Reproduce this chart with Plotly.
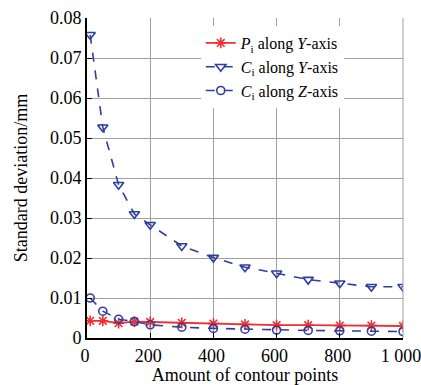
import plotly.graph_objects as go

points = [10, 50, 100, 150, 200, 300, 400, 500, 600, 700, 800, 900, 1000]
p_y = [0.0043, 0.0043, 0.0037, 0.0041, 0.0040, 0.0038, 0.0036, 0.0034, 0.0032, 0.0032, 0.0031, 0.0031, 0.0030]
c_y = [0.0758, 0.0527, 0.0383, 0.0310, 0.0283, 0.0230, 0.0201, 0.0177, 0.0162, 0.0146, 0.0137, 0.0128, 0.0128]
c_z = [0.0100, 0.0067, 0.0047, 0.0041, 0.0033, 0.0027, 0.0024, 0.0022, 0.0020, 0.0019, 0.0018, 0.0017, 0.0016]

x_ticks = [0, 200, 400, 600, 800, 1000]
x_ticktext = ["0", "200", "400", "600", "800", "1 000"]
y_ticks = [0, 0.01, 0.02, 0.03, 0.04, 0.05, 0.06, 0.07, 0.08]
y_ticktext = ["0", "0.01", "0.02", "0.03", "0.04", "0.05", "0.06", "0.07", "0.08"]

RED = "#f03030"
BLUE = "#2e3fa0"

fig = go.Figure()
fig.add_trace(go.Scatter(
    x=points, y=p_y, mode="lines+markers",
    name="<i>P</i><sub>i</sub> along <i>Y</i>-axis",
    line=dict(color=RED, width=1.8),
    marker=dict(symbol="asterisk-open", size=9, color=RED, line=dict(color=RED, width=1.6)),
))
fig.add_trace(go.Scatter(
    x=points, y=c_y, mode="lines+markers",
    name="<i>C</i><sub>i</sub> along <i>Y</i>-axis",
    line=dict(color=BLUE, width=1.6, dash="dash"),
    marker=dict(symbol="triangle-down-open", size=9, color=BLUE, line=dict(color=BLUE, width=1.6)),
))
fig.add_trace(go.Scatter(
    x=points, y=c_z, mode="lines+markers",
    name="<i>C</i><sub>i</sub> along <i>Z</i>-axis",
    line=dict(color=BLUE, width=1.6, dash="dash"),
    marker=dict(symbol="circle-open", size=8, color=BLUE, line=dict(color=BLUE, width=1.6)),
))

font = "Liberation Serif"
fig.update_layout(
    width=421, height=385,
    margin=dict(l=87, r=18, t=18, b=47),
    paper_bgcolor="white", plot_bgcolor="white",
    font=dict(family=font, size=18, color="black"),
    showlegend=True,
    legend=dict(
        x=0.36, y=0.975, xanchor="left", yanchor="top",
        bgcolor="white", borderwidth=0,
        font=dict(family=font, size=16),
        tracegroupgap=0, itemwidth=30,
    ),
    xaxis=dict(
        range=[0, 1000], tickvals=x_ticks, ticktext=x_ticktext,
        showgrid=True, gridcolor="#a0a0a0", gridwidth=1,
        showline=True, linecolor="black", linewidth=2, mirror=False,
        ticks="inside", ticklen=5, tickcolor="black",
        zeroline=False, automargin=False, ticklabeloverflow="allow",
        ticklabelshift=-2,
        title=dict(text="Amount of contour points", font=dict(family=font, size=18), standoff=5),
        tickfont=dict(family=font, size=18),
    ),
    yaxis=dict(
        range=[0, 0.08], tickvals=y_ticks, ticktext=y_ticktext,
        showgrid=True, gridcolor="#a0a0a0", gridwidth=1,
        showline=True, linecolor="black", linewidth=2, mirror=False,
        ticks="inside", ticklen=5, tickcolor="black",
        zeroline=False, automargin=False,
        title=dict(text="Standard deviation/mm", font=dict(family=font, size=18), standoff=18),
        tickfont=dict(family=font, size=18),
    ),
)
# right border (light frame)
fig.add_shape(type="line", xref="paper", yref="paper", x0=1, x1=1, y0=0, y1=1,
              line=dict(color="#a0a0a0", width=1))

fig.write_html("out.html")
